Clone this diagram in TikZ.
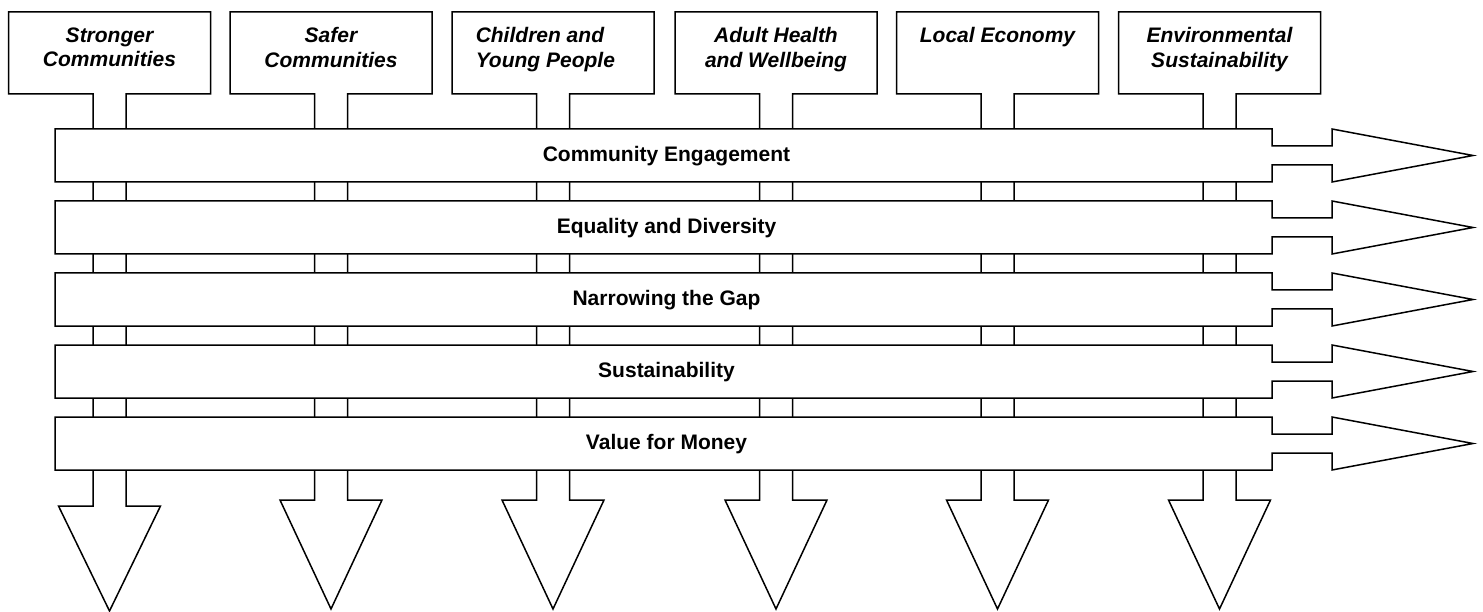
\documentclass[tikz,border=0pt]{standalone}
\usepackage{fontspec}
\setmainfont{Liberation Sans}
\begin{document}
\begin{tikzpicture}[x=1pt,y=-1pt,line width=1.5pt,line join=miter,
  shapebox/.style={draw=black,fill=white},
  vtext/.style={font=\fontsize{21}{24.5}\selectfont\bfseries\itshape,align=center,anchor=north,inner sep=0pt},
  htext/.style={font=\fontsize{21}{24}\selectfont\bfseries,anchor=base,inner sep=0pt}]
\useasboundingbox (0,0) rectangle (1483,612);
% vertical callout arrows (theme boxes)
\foreach \cx/\ht/\tip in {109.5/506/611, 331/500/609, 553/500/609, 776/500/609, 997.5/500/609, 1219.5/500/609} {
  \draw[shapebox] (\cx-101,12) -- (\cx+101,12) -- (\cx+101,94) -- (\cx+16.5,94)
    -- (\cx+16.5,\ht) -- (\cx+51,\ht) -- (\cx,\tip) -- (\cx-51,\ht) -- (\cx-16.5,\ht)
    -- (\cx-16.5,94) -- (\cx-101,94) -- cycle;
}
\node[vtext] (t1) at (109.5,27) {Stronger\\Communities};
\node[vtext] (t2) at (331,27) {Safer\\Communities};
\node[vtext,align=left,anchor=north west] (t3) at (475,27) {Children and\\Young People};
\node[vtext] (t4) at (776,27) {Adult Health\\and Wellbeing};
\node[vtext] (t5) at (997.5,27) {Local Economy};
\node[vtext] (t6) at (1219.5,27) {Environmental\\Sustainability};
% horizontal cross-cutting arrows
\foreach \y/\t/\n in {129/Community Engagement/h1, 201/Equality and Diversity/h2, 273/Narrowing the Gap/h3, 345/Sustainability/h4, 417/Value for Money/h5} {
  \draw[shapebox] (55,\y) -- (1272,\y) -- (1272,\y+17) -- (1332,\y+17) -- (1332,\y)
    -- (1473,\y+26.5) -- (1332,\y+53) -- (1332,\y+36) -- (1272,\y+36) -- (1272,\y+53)
    -- (55,\y+53) -- cycle;
  \node[htext] (\n) at (666.5,\y+32.5) {\t};
}
\end{tikzpicture}
\end{document}
